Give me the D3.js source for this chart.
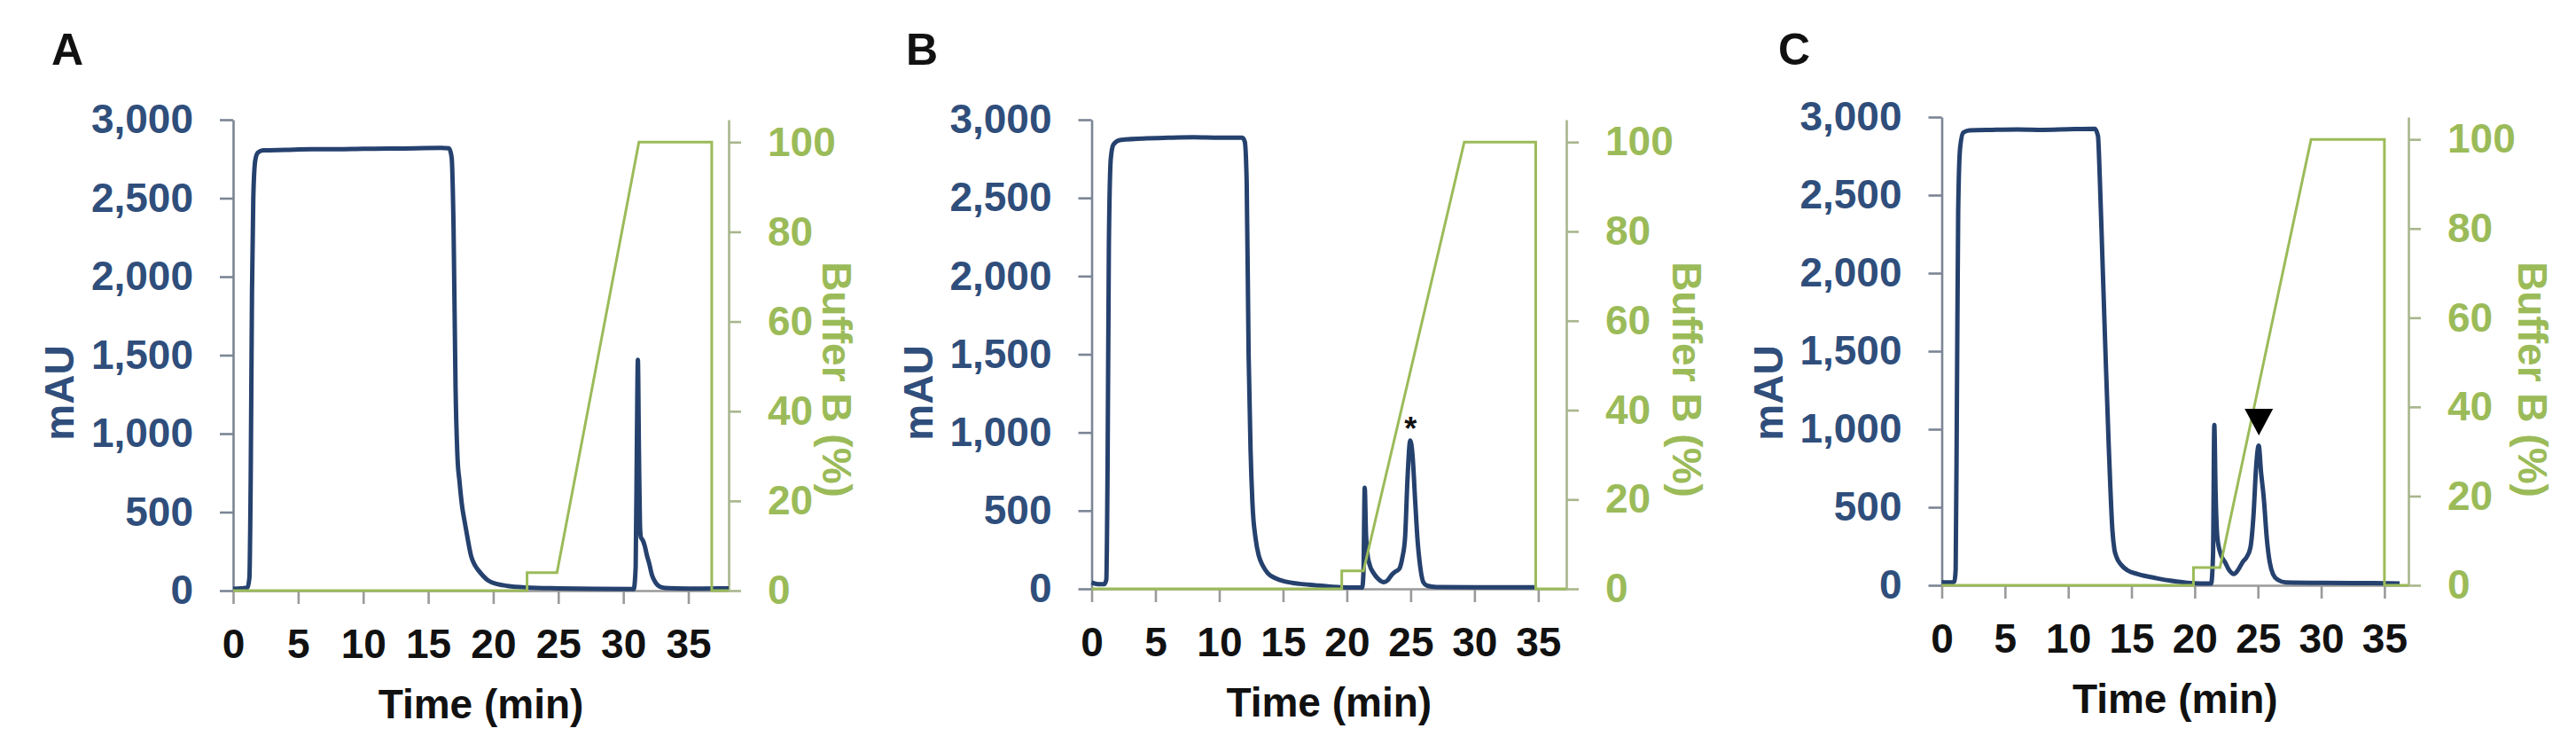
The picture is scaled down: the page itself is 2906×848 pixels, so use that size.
<!DOCTYPE html>
<html>
<head>
<meta charset="utf-8">
<script src="https://cdn.jsdelivr.net/npm/d3@7"></script>
<style>
  body { margin: 0; background: #fff; }
  svg text { font-family: 'Liberation Sans', Arial, sans-serif; font-weight: bold; }
</style>
</head>
<body>
<svg id="chart" width="2906" height="848"></svg>
<script>
// axis ticks
const timeTicks = [0, 5, 10, 15, 20, 25, 30, 35];
const mauTicks = [0, 500, 1000, 1500, 2000, 2500, 3000];
const bufferTicks = [0, 20, 40, 60, 80, 100];
const panelLetters = ['A', 'B', 'C'];
const timeEnds = [38.1, 37.2, 36.9];

// UV trace [time (min), mAU]
const uvA = [[0, 12], [0.6, 14], [1.1, 18], [1.25, 80], [1.35, 700], [1.45, 1900], [1.55, 2500], [1.7, 2740],
  [1.9, 2790], [2.3, 2805], [4, 2808], [6, 2812], [8, 2812], [10, 2815], [12, 2816], [14, 2818], [16, 2820],
  [16.6, 2818], [16.8, 2760], [16.95, 2300], [17.1, 1300], [17.25, 850], [17.4, 700], [17.6, 540], [17.8, 440],
  [17.95, 370], [18.3, 220], [18.6, 160], [18.9, 125], [19.6, 65], [20.3, 42], [21.1, 30], [22.5, 20], [25, 14],
  [28, 11], [30.8, 10], [30.95, 150], [31.05, 1000], [31.12, 1470], [31.2, 900], [31.28, 420], [31.35, 340],
  [31.5, 320], [31.65, 285], [31.8, 230], [32.0, 170], [32.2, 100], [32.45, 55], [32.9, 22], [33.5, 15],
  [36, 13], [38.1, 14]];
const uvB = [[0, 40], [0.5, 30], [1.0, 30], [1.15, 60], [1.25, 800], [1.35, 2200], [1.5, 2750], [1.7, 2840],
  [2.2, 2870], [4, 2880], [6, 2885], [8, 2888], [10, 2885], [11.8, 2885], [12.0, 2860], [12.15, 2600],
  [12.3, 1500], [12.45, 900], [12.6, 550], [12.85, 320], [13.1, 212], [13.4, 150], [13.8, 100], [14.4, 68],
  [15.2, 46], [16.3, 32], [17.5, 23], [18.5, 16], [19.3, 12], [20.5, 9], [21.2, 8], [21.3, 100], [21.4, 647],
  [21.5, 350], [21.6, 230], [21.8, 150], [22.1, 100], [22.5, 60], [22.9, 42], [23.2, 55], [23.5, 88],
  [23.8, 110], [24.1, 127], [24.35, 200], [24.56, 325], [24.75, 700], [24.97, 949], [25.15, 850], [25.36, 552],
  [25.55, 300], [25.7, 174], [26.0, 41], [26.3, 20], [27, 12], [30, 10], [34.7, 10]];
const uvC = [[0, 20], [0.8, 18], [1.0, 25], [1.1, 100], [1.2, 1200], [1.3, 2400], [1.45, 2800], [1.7, 2900],
  [2.2, 2915], [4, 2918], [6, 2920], [8, 2918], [10, 2922], [12.1, 2925], [12.35, 2880], [12.5, 2600],
  [12.7, 2100], [12.95, 1480], [13.2, 900], [13.5, 345], [13.65, 230], [13.8, 185], [14.2, 130], [14.7, 95],
  [15.5, 72], [17.0, 45], [18.2, 28], [19.4, 16], [20.5, 12], [21.3, 12], [21.45, 200], [21.55, 1027],
  [21.65, 600], [21.8, 300], [22.1, 190], [22.4, 148], [22.7, 100], [23.1, 72], [23.4, 95], [23.8, 150],
  [24.1, 180], [24.4, 240], [24.65, 450], [24.85, 750], [25.06, 895], [25.25, 720], [25.46, 560], [25.7, 300],
  [25.93, 148], [26.2, 70], [26.6, 34], [27.2, 18], [30, 15], [34, 14], [36.2, 12]];

// Buffer B gradient [time (min), %]
const bufferA = [[0, 0], [22.6, 0], [22.6, 4], [24.9, 4], [31.2, 100], [36.8, 100], [36.8, 0], [38.1, 0]];
const bufferB = [[0, 0], [19.6, 0], [19.6, 4], [21.3, 4], [29.2, 100], [34.8, 100], [34.8, 0], [37.2, 0]];
const bufferC = [[0, 0], [19.9, 0], [19.9, 4], [22.0, 4], [29.2, 100], [35.0, 100], [35.0, 0], [36.9, 0]];

// peak annotations [time, mAU]
const asteriskB = [25.0, 1070];
const triangleC = [25.07, 1046];

const blueText = '#2f4e7b';
const blueLine = '#25416e';
const green = '#9bbb59';
const fontSize = 46;

const panels = [
  { uv: uvA, buffer: bufferA, left: 263, right: 822, y0: 666, yTop: 135, letterX: 76, bufOff: 122 },
  { uv: uvB, buffer: bufferB, left: 1231.5, right: 1767, y0: 664, yTop: 135, letterX: 1040, bufOff: 136 },
  { uv: uvC, buffer: bufferC, left: 2190.5, right: 2717, y0: 660, yTop: 132, letterX: 2024, bufOff: 140 }
];

const svg = d3.select('#chart');

function styleAxis(g, axisColor, textColor) {
  g.attr('font-size', null).attr('font-family', null);
  g.select('.domain').attr('stroke', axisColor).attr('stroke-width', 2.6);
  g.selectAll('.tick line').attr('stroke', axisColor).attr('stroke-width', 2.6);
  g.selectAll('.tick text').attr('fill', textColor).style('font-size', fontSize + 'px');
}

panels.forEach((p, i) => {
  const x = d3.scaleLinear().domain([0, timeEnds[i]]).range([p.left, p.right]);
  const y = d3.scaleLinear().domain([0, 3000]).range([p.y0, p.yTop]);
  const y2 = d3.scaleLinear().domain([0, 105]).range([p.y0, p.yTop]);
  const g = svg.append('g');

  g.append('g')
    .attr('transform', `translate(0,${p.y0})`)
    .call(d3.axisBottom(x).tickValues(timeTicks).tickSize(15).tickSizeOuter(0).tickPadding(28))
    .call(a => styleAxis(a, '#9a9a9a', '#111'));

  g.append('g')
    .attr('transform', `translate(${p.left},0)`)
    .call(d3.axisLeft(y).tickValues(mauTicks).tickFormat(d3.format(',')).tickSize(15).tickSizeOuter(0).tickPadding(30))
    .call(a => styleAxis(a, '#7b8595', blueText));

  g.append('g')
    .attr('transform', `translate(${p.right},0)`)
    .call(d3.axisRight(y2).tickValues(bufferTicks).tickSize(14).tickSizeOuter(0).tickPadding(30))
    .call(a => styleAxis(a, '#a8b68c', green));

  g.append('path')
    .datum(p.uv)
    .attr('fill', 'none')
    .attr('stroke', blueLine)
    .attr('stroke-width', 5)
    .attr('stroke-linejoin', 'round')
    .attr('d', d3.line().x(d => x(d[0])).y(d => y(d[1])).curve(d3.curveMonotoneX));

  g.append('path')
    .datum(p.buffer)
    .attr('fill', 'none')
    .attr('stroke', green)
    .attr('stroke-width', 3)
    .attr('d', d3.line().x(d => x(d[0])).y(d => y2(d[1])));

  g.append('text')
    .attr('x', p.letterX)
    .attr('y', 73)
    .attr('text-anchor', 'middle')
    .style('font-size', '50px')
    .attr('fill', '#111')
    .text(panelLetters[i]);

  g.append('text')
    .attr('x', (p.left + p.right) / 2)
    .attr('y', p.y0 + 144)
    .attr('text-anchor', 'middle')
    .style('font-size', fontSize + 'px')
    .attr('fill', '#111')
    .text('Time (min)');

  g.append('text')
    .attr('transform', `translate(${p.left - 196},443)rotate(-90)`)
    .attr('text-anchor', 'middle')
    .attr('dominant-baseline', 'central')
    .style('font-size', fontSize + 'px')
    .attr('fill', blueText)
    .text('mAU');

  g.append('text')
    .attr('transform', `translate(${p.right + p.bufOff},428)rotate(90)`)
    .attr('text-anchor', 'middle')
    .attr('dominant-baseline', 'central')
    .style('font-size', fontSize + 'px')
    .attr('fill', green)
    .text('Buffer B (%)');

  if (i === 1) {
    g.append('text')
      .attr('x', x(asteriskB[0]))
      .attr('y', y(asteriskB[1]) + 21)
      .attr('text-anchor', 'middle')
      .style('font-size', '36px')
      .attr('fill', '#111')
      .text('*');
  }
  if (i === 2) {
    const cx = x(triangleC[0]);
    const cy = y(triangleC[1]);
    g.append('path')
      .attr('d', `M${cx - 16},${cy - 15}L${cx + 16},${cy - 15}L${cx},${cy + 15}Z`)
      .attr('fill', '#000');
  }
});
</script>
</body>
</html>
